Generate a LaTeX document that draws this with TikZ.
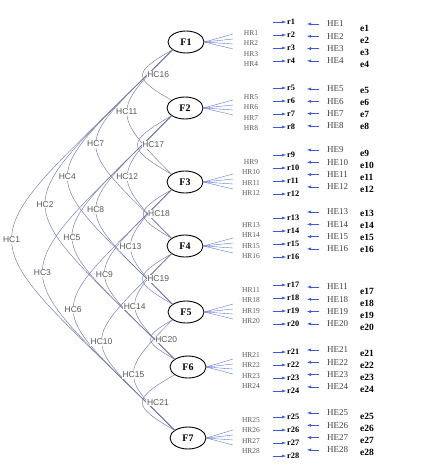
\documentclass[tikz,border=0pt]{standalone}
\usepackage{fontspec}
\setmainfont{Liberation Serif}
\setsansfont{Liberation Sans}
\usetikzlibrary{arrows.meta,shapes.geometric}
\definecolor{covline}{RGB}{112,120,172}
\definecolor{loadline}{RGB}{80,105,215}
\definecolor{residline}{RGB}{55,90,225}
\tikzset{
  factor/.style={draw,line width=0.9pt,ellipse,minimum width=36pt,minimum height=22pt,inner sep=0pt,font=\fontsize{10}{10}\selectfont\bfseries},
  cov/.style={covline,line width=0.45pt},
  hclab/.style={fill=white,inner sep=0.6pt,text=black!65,font=\fontsize{8.5}{9}\selectfont\sffamily},
  hop1/.style={out=210,in=150,looseness=2.3},
  hop2/.style={out=225,in=135,looseness=1.75},
  hop3/.style={out=225,in=135,looseness=1.95},
  hop4/.style={out=225,in=135,looseness=2.0},
  hop5/.style={out=225,in=135,looseness=2.0},
  hop6/.style={out=225,in=135,looseness=2.05},
  load/.style={loadline,line width=0.35pt},
  resid/.style={residline,->,line width=0.5pt},
  hrlab/.style={inner sep=1pt,text=black!65,font=\fontsize{7.5}{8}\selectfont},
  rlab/.style={anchor=west,inner sep=1pt,font=\fontsize{8.3}{9}\selectfont\bfseries},
  helab/.style={anchor=west,inner sep=1pt,text=black!75,font=\fontsize{9}{9}\selectfont},
  elab/.style={anchor=west,inner sep=1pt,font=\fontsize{9.5}{10}\selectfont\bfseries}
}
\begin{document}
\begin{tikzpicture}[x=1pt,y=1pt,>={Latex[length=4pt,width=3pt]}]
\useasboundingbox (0,0) rectangle (426,-470);
\foreach \g/\fx/\fy in {1/186/42,2/185/108,3/185/182,4/185/246,5/186/312,6/188/367,7/188/438}
  \node[factor] (F\g) at (\fx,-\fy) {F\g};
\draw[cov] (F1.210) to[hop6] node[hclab] {HC1} (F7.150);
\draw[cov] (F1.210) to[hop5] node[hclab] {HC2} (F6.150);
\draw[cov] (F2.210) to[hop5] node[hclab] {HC3} (F7.150);
\draw[cov] (F1.210) to[hop4] node[hclab] {HC4} (F5.150);
\draw[cov] (F2.210) to[hop4] node[hclab] {HC5} (F6.150);
\draw[cov] (F3.210) to[hop4] node[hclab] {HC6} (F7.150);
\draw[cov] (F1.210) to[hop3] node[hclab] {HC7} (F4.150);
\draw[cov] (F2.210) to[hop3] node[hclab] {HC8} (F5.150);
\draw[cov] (F3.210) to[hop3] node[hclab] {HC9} (F6.150);
\draw[cov] (F4.210) to[hop3] node[hclab] {HC10} (F7.150);
\draw[cov] (F1.210) to[hop2] node[hclab] {HC11} (F3.150);
\draw[cov] (F2.210) to[hop2] node[hclab] {HC12} (F4.150);
\draw[cov] (F3.210) to[hop2] node[hclab] {HC13} (F5.150);
\draw[cov] (F4.210) to[hop2] node[hclab] {HC14} (F6.150);
\draw[cov] (F5.210) to[hop2] node[hclab] {HC15} (F7.150);
\draw[cov] (F1.210) to[hop1] node[hclab,anchor=west,xshift=4pt] {HC16} (F2.150);
\draw[cov] (F2.210) to[hop1] node[hclab,anchor=west,xshift=4pt] {HC17} (F3.150);
\draw[cov] (F3.210) to[hop1] node[hclab,anchor=west,xshift=4pt] {HC18} (F4.150);
\draw[cov] (F4.210) to[hop1] node[hclab,anchor=west,xshift=4pt] {HC19} (F5.150);
\draw[cov] (F5.210) to[hop1] node[hclab,anchor=west,xshift=4pt] {HC20} (F6.150);
\draw[cov] (F6.210) to[hop1] node[hclab,anchor=west,xshift=4pt] {HC21} (F7.150);
\foreach \g/\fy/\hy/\ry/\hey/\ey in {1/42/33/22/24/28,2/108/97/88/89/90,3/182/162/155/150/153,4/246/225/218/212/213,5/312/290/285/287/291,6/367/355/352/350/353,7/438/420/417/413/416}{
  \foreach \k in {1,...,4}{
    \pgfmathtruncatemacro\n{4*(\g-1)+\k}
    \pgfmathtruncatemacro\lab{\n==17 ? 11 : \n}
    \coordinate (l\n) at (233,{-\fy+13-5*\k});
    \draw[load] (F\g.east) -- (l\n);
    \node[hrlab] (hr\n) at (251,{-\hy-10.3*(\k-1)}) {HR\lab};
    \coordinate (a\n) at (273,{-\ry-13*(\k-1)});
    \node[rlab] (r\n) at (286,{-\ry-13*(\k-1)}) {r\n};
    \draw[resid] (a\n) -- (r\n);
    \node[helab] (he\n) at (326,{-\hey-12.3*(\k-1)}) {HE\lab};
    \coordinate (b\n) at (307,{-\hey-12.3*(\k-1)});
    \draw[resid,shorten <=7pt] (he\n) -- (b\n);
    \node[elab] (e\n) at (359,{-\ey-12*(\k-1)}) {e\n};
  }
}
\end{tikzpicture}
\end{document}
